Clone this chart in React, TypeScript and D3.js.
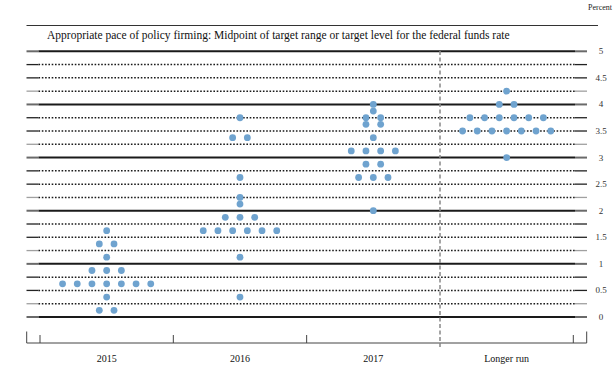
import * as React from 'react';
import * as d3 from 'd3';

const W = 616;
const H = 371;

const categories = ['2015', '2016', '2017', 'Longer run'];
const gridValues = d3.range(0, 5.001, 0.25);
const tickLabels = ['0', '0.5', '1', '1.5', '2', '2.5', '3', '3.5', '4', '4.5', '5'];

// [rate, number of participants]
const dots2015: [number, number][] = [
    [1.625, 1], [1.375, 2], [1.125, 1], [0.875, 3], [0.625, 7], [0.375, 1], [0.125, 2],
];
const dots2016: [number, number][] = [
    [3.75, 1], [3.375, 2], [2.625, 1], [2.25, 1], [2.125, 1], [1.875, 3], [1.625, 6], [1.125, 1], [0.375, 1],
];
const dots2017: [number, number][] = [
    [4.0, 1], [3.875, 1], [3.75, 2], [3.625, 2], [3.375, 1], [3.125, 4], [2.875, 2], [2.625, 3], [2.0, 1],
];
const dotsLonger: [number, number][] = [
    [4.25, 1], [4.0, 2], [3.75, 6], [3.5, 7], [3.0, 1],
];
const seriesDots = [dots2015, dots2016, dots2017, dotsLonger];

const serif = '"Liberation Serif", "DejaVu Serif", serif';

export default function App() {
    const y = d3.scaleLinear().domain([0, 5]).range([317, 51.3]);
    const x = d3.scaleBand<string>().domain(categories).range([40, 573.3]).padding(0);
    const dotStep = 14.7;
    const lineL = 38.5;
    const lineR = 575;
    const axisY = 343;

    const points = seriesDots.flatMap((rows, i) => {
        const cx = x(categories[i])! + x.bandwidth() / 2;
        return rows.flatMap(([v, n]) =>
            d3.range(n).map(k => ({ cx: cx + (k - (n - 1) / 2) * dotStep, cy: y(v) }))
        );
    });

    const stubColor = (v: number) => {
        const f = v % 1;
        if (f === 0) return '#6a6a6a';
        if (f === 0.5 || f === 0.75) return '#222';
        return '#a0a0a0';
    };

    return (
        <svg width={W} height={H} style={{ position: 'absolute', left: 0, top: 0, background: '#fff' }}>
            <text x={612} y={10} fontSize={8} fontFamily={serif} textAnchor="end" fill="#222">Percent</text>
            <line x1={26.5} x2={598} y1={25.5} y2={25.5} stroke="#333" strokeWidth={1.2} />
            <text x={47} y={39} fontSize={11.5} fontFamily={serif} fill="#111">
                Appropriate pace of policy firming: Midpoint of target range or target level for the federal funds rate
            </text>

            {gridValues.map(v => {
                const solid = v % 1 === 0;
                return (
                    <g key={v}>
                        <line x1={26.5} x2={lineL} y1={y(v)} y2={y(v)} stroke={stubColor(v)} strokeWidth={solid ? 2 : 1.3} />
                        <line x1={lineR} x2={587} y1={y(v)} y2={y(v)} stroke={stubColor(v)} strokeWidth={solid ? 2 : 1.3} />
                        <line
                            x1={lineL} x2={lineR} y1={y(v)} y2={y(v)}
                            stroke="#1a1a1a"
                            strokeWidth={solid ? 2 : 1.5}
                            strokeDasharray={solid ? undefined : '1.6 1.7'}
                        />
                    </g>
                );
            })}

            {tickLabels.map(t => (
                <text key={t} x={601} y={y(+t) + 3} fontSize={9} fontFamily={serif} textAnchor="middle" fill="#333">{t}</text>
            ))}

            <line x1={440} x2={440} y1={51} y2={347} stroke="#888" strokeWidth={1.5} strokeDasharray="4 2.5" />

            {points.map((p, i) => (
                <circle key={i} cx={p.cx} cy={p.cy} r={3.4} fill="#6fa3cf" />
            ))}

            <line x1={26.7} x2={586.7} y1={axisY} y2={axisY} stroke="#444" strokeWidth={1} />
            <line x1={26.7} x2={26.7} y1={331.5} y2={axisY} stroke="#444" strokeWidth={1} />
            <line x1={586.7} x2={586.7} y1={331.5} y2={axisY} stroke="#444" strokeWidth={1} />
            {[40, ...categories.map(c => x(c)! + x.bandwidth())].map(b => (
                Math.abs(b - 440) < 1 ? null :
                <line key={b} x1={b} x2={b} y1={335} y2={axisY} stroke="#444" strokeWidth={1} />
            ))}
            {categories.map(c => (
                <text key={c} x={x(c)! + x.bandwidth() / 2} y={361.5} fontSize={10} fontFamily={serif} textAnchor="middle" fill="#111">{c}</text>
            ))}
        </svg>
    );
}
